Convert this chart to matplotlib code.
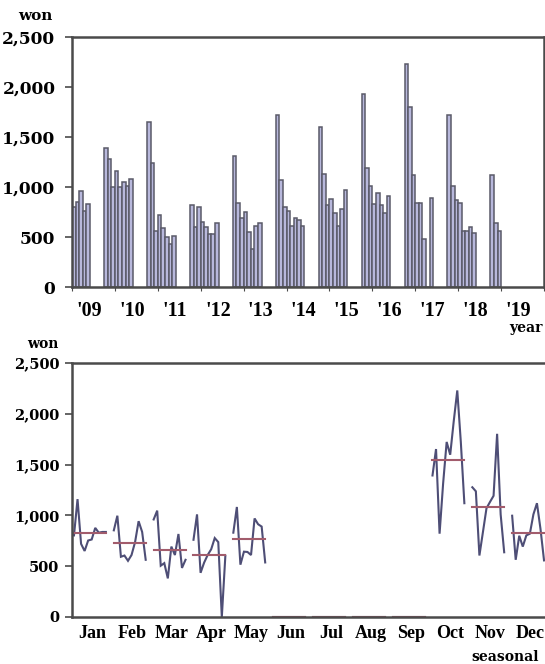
import matplotlib
matplotlib.use('Agg')
import matplotlib.pyplot as plt
from matplotlib.ticker import FuncFormatter

# monthly prices (won), seasons 2009..2018
years = [2009, 2010, 2011, 2012, 2013, 2014, 2015, 2016, 2017, 2018]
jan = [803, 1160, 720, 650, 753, 763, 877, 830, 837, 837]
feb = [853, 997, 593, 605, 553, 610, 737, 943, 837, 563]
mar = [960, 1047, 505, 530, 380, 693, 610, 817, 483, 563]
apr = [760, 1010, 435, 535, 610, 667, 777, 737, 0, 603]
may = [830, 1083, 515, 643, 640, 610, 970, 913, 890, 537]
jun = [0, 0, 0, 0, 0, 0, 0, 0, 0, 0]
jul = [0, 0, 0, 0, 0, 0, 0, 0, 0, 0]
aug = [0, 0, 0, 0, 0, 0, 0, 0, 0, 0]
sep = [0, 0, 0, 0, 0, 0, 0, 0, 0, 0]
oct_ = [1393, 1653, 820, 1313, 1723, 1597, 1927, 2230, 1723, 1120]
nov = [1277, 1237, 605, 837, 1070, 1133, 1193, 1803, 1010, 637]
dec = [997, 563, 800, 693, 803, 820, 1010, 1120, 867, 557]

month_names = ['Jan', 'Feb', 'Mar', 'Apr', 'May', 'Jun',
               'Jul', 'Aug', 'Sep', 'Oct', 'Nov', 'Dec']
season = [jan, feb, mar, apr, may, jun, jul, aug, sep, oct_, nov, dec]
traded = [0, 1, 2, 3, 4, 9, 10, 11]  # months shown in the top chart
year_labels = ["'09", "'10", "'11", "'12", "'13", "'14",
               "'15", "'16", "'17", "'18", "'19"]
yticks = [0, 500, 1000, 1500, 2000, 2500]

SPINE = '#4a4a4a'
BAR_EDGE = '#5a5a68'
BAR_FILL = '#b8b8dc'
LINE = '#4e4e76'
MEAN = '#a25c6c'
BIG = 'DejaVu Serif'
TIMES = 'Liberation Serif'

fig = plt.figure(figsize=(5.45, 6.64), dpi=100)
fmt = FuncFormatter(lambda v, p: f'{int(v):,}')


def style(ax, fs, pad):
    for s in ax.spines.values():
        s.set_color(SPINE)
        s.set_linewidth(1.8)
    ax.set_ylim(0, 2500)
    ax.set_yticks(yticks)
    ax.yaxis.set_major_formatter(fmt)
    ax.tick_params(axis='y', direction='out', length=5, width=1.2,
                   color=SPINE, pad=pad, labelsize=fs)
    for t in ax.get_yticklabels():
        t.set_fontfamily(BIG)
        t.set_fontweight('bold')


# ---- top: monthly bars
ax1 = fig.add_axes([72 / 545, 1 - 287 / 664, 472 / 545, 250 / 664])
xs, hs = [], []
for i, y in enumerate(years):
    for m in traded:
        xs.append(y + m / 12)
        hs.append(season[m][i])
ax1.bar(xs, hs, width=1 / 12, align='edge', color=BAR_FILL,
        edgecolor=BAR_EDGE, linewidth=1.1)
ax1.set_xlim(2009, 2020)
style(ax1, 12.3, 7)
ax1.set_xticks(range(2009, 2021))
ax1.set_xticklabels([])
ax1.set_xticks([y + 0.4 for y in range(2009, 2020)], minor=True)
ax1.set_xticklabels(year_labels, minor=True, fontfamily=TIMES,
                    fontweight='bold', fontsize=14.5)
ax1.tick_params(axis='x', which='major', direction='out', length=3,
                color=SPINE)
ax1.tick_params(axis='x', which='minor', length=0, pad=10)
fig.text(35 / 545, 1 - 20 / 664, 'won', ha='center', va='baseline',
         fontfamily=BIG, fontweight='bold', fontsize=11)
fig.text(543 / 545, 1 - 332 / 664, 'year', ha='right', va='baseline',
         fontfamily=BIG, fontweight='bold', fontsize=10)

# ---- bottom: seasonal subseries
ax2 = fig.add_axes([72 / 545, 1 - 617 / 664, 478 / 545, 254 / 664])
step = 0.8 / (len(years) - 1)
for m, vals in enumerate(season):
    px = [m + 0.05 + k * step for k in range(len(vals))]
    ax2.plot(px, vals, color=LINE, lw=1.5, solid_joinstyle='miter')
    avg = sum(vals) / len(vals)
    ax2.plot([px[0], px[-1]], [avg, avg], color=MEAN, lw=1.5)
ax2.set_xlim(0, 12)
style(ax2, 10.5, 4)
ax2.set_xticks([m + 0.5 for m in range(12)])
ax2.set_xticklabels(month_names, fontfamily=TIMES, fontweight='bold',
                    fontsize=13)
ax2.tick_params(axis='x', length=0, pad=6)
fig.text(43 / 545, 1 - 348 / 664, 'won', ha='center', va='baseline',
         fontfamily=BIG, fontweight='bold', fontsize=10)
fig.text(539 / 545, 1 - 661 / 664, 'seasonal', ha='right', va='baseline',
         fontfamily=BIG, fontweight='bold', fontsize=10)

fig.savefig('out.png', dpi=100)
